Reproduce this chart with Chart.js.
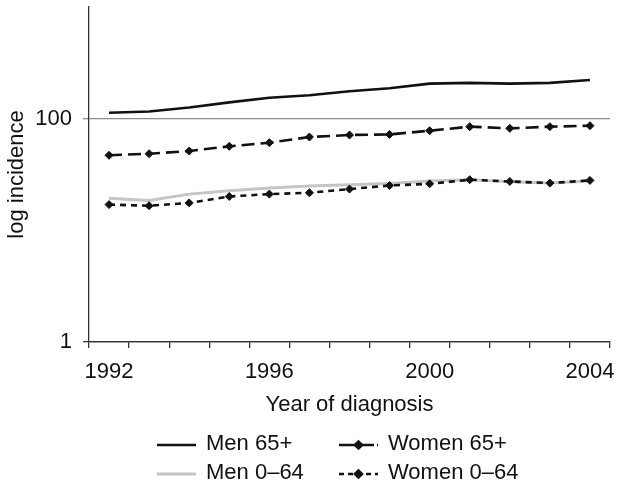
<!DOCTYPE html>
<html>
<head>
<meta charset="utf-8">
<script src="https://cdn.jsdelivr.net/npm/chart.js@4/dist/chart.umd.min.js"></script>
<style>
  html, body { margin: 0; padding: 0; background: #fff; }
  canvas { display: block; }
</style>
</head>
<body>
<canvas id="chart" width="624" height="487"></canvas>
<script>
const years = ["1992", "1993", "1994", "1995", "1996", "1997", "1998", "1999", "2000", "2001", "2002", "2003", "2004"];
const men65 = [113, 116, 126, 140, 154, 162, 176, 187, 206, 209, 206, 209, 222];
const women65 = [47, 48.5, 51.3, 56.5, 60.9, 68.5, 71.4, 72.3, 78, 84.8, 81.9, 84.8, 86.5];
const men064 = [19.4, 18.5, 21.1, 22.6, 23.9, 24.9, 25.6, 26.3, 27.6, 28.4, 27.2, 26.5, 27.6];
const women064 = [17.0, 16.6, 17.6, 20.1, 21.1, 21.7, 23.4, 25.2, 26.1, 28.4, 27.4, 26.5, 28.0];
const yTicks = [1, 100];
const labelEvery = 4;

const FONT = "'Liberation Sans', Helvetica, Arial, sans-serif";
const INK = "#111";

// draws the 2x2 legend under the axis title, styled from the datasets
const gridLegend = {
  id: "gridLegend",
  afterDraw(chart, args, opts){
    const ctx = chart.ctx;
    ctx.save();
    opts.items.forEach((item)=>{
      const ds = chart.data.datasets[item.index];
      const y = item.y;
      ctx.strokeStyle = ds.borderColor;
      ctx.lineWidth = ds.borderWidth;
      ctx.setLineDash(item.dash || []);
      ctx.beginPath();
      ctx.moveTo(item.x, y);
      ctx.lineTo(item.x + opts.lineLength, y);
      ctx.stroke();
      ctx.setLineDash([]);
      if(ds.pointRadius > 0){
        ctx.fillStyle = ds.pointBackgroundColor;
        Chart.helpers.drawPoint(ctx, {
          pointStyle: ds.pointStyle,
          radius: ds.pointRadius - 0.5,
          rotation: 0,
          borderWidth: 1
        }, item.x + opts.lineLength / 2, y);
      }
      ctx.fillStyle = INK;
      ctx.font = "22px " + FONT;
      ctx.textBaseline = "middle";
      ctx.textAlign = "left";
      ctx.fillText(ds.label, item.x + opts.lineLength + 10, y - 1);
    });
    ctx.restore();
  }
};

const markerStyle = {
  pointStyle: "rectRot",
  pointRadius: 4,
  pointBackgroundColor: INK,
  pointBorderColor: INK,
  pointBorderWidth: 1
};

new Chart(document.getElementById("chart"), {
  type: "line",
  data: {
    labels: years,
    datasets: [
      {
        label: "Men 65+",
        data: men65,
        borderColor: INK,
        borderWidth: 2.6,
        pointRadius: 0,
        order: 0
      },
      Object.assign({
        label: "Women 65+",
        data: women65,
        borderColor: INK,
        borderWidth: 2.6,
        borderDash: [13, 6],
        order: 0
      }, markerStyle),
      {
        label: "Men 0\u201364",
        data: men064,
        borderColor: "#c3c6c3",
        borderWidth: 3,
        pointRadius: 0,
        order: 2
      },
      Object.assign({
        label: "Women 0\u201364",
        data: women064,
        borderColor: INK,
        borderWidth: 2.6,
        borderDash: [6, 5],
        order: 1
      }, markerStyle)
    ]
  },
  options: {
    responsive: false,
    animation: false,
    devicePixelRatio: 1,
    layout: { padding: { top: 7, right: 14, bottom: 69, left: 0 } },
    elements: { line: { tension: 0, borderJoinStyle: "round" } },
    plugins: {
      legend: { display: false },
      tooltip: { enabled: false },
      gridLegend: {
        lineLength: 39,
        items: [
          { index: 0, x: 157, y: 445 },
          { index: 1, x: 339, y: 445, dash: [16, 3] },
          { index: 2, x: 157, y: 474 },
          { index: 3, x: 339, y: 474, dash: [5, 4] }
        ]
      }
    },
    scales: {
      x: {
        type: "category",
        offset: true,
        afterFit: (scale)=>{
          scale.height = 76;
          scale.paddingLeft = 0;
          scale.paddingRight = 0;
        },
        grid: {
          offset: true,
          drawOnChartArea: false,
          drawTicks: true,
          tickLength: 6,
          color: "#333",
          lineWidth: 1.3
        },
        border: { color: "#333", width: 1.3 },
        ticks: {
          autoSkip: false,
          maxRotation: 0,
          padding: 11,
          color: INK,
          font: { family: FONT, size: 22 },
          callback: function(value, index){
            return index % labelEvery === 0 ? this.getLabelForValue(value) : "";
          }
        },
        title: {
          display: true,
          text: "Year of diagnosis",
          color: INK,
          padding: { top: 0, bottom: 0 },
          font: { family: FONT, size: 22 }
        }
      },
      y: {
        type: "logarithmic",
        min: 1,
        max: 1000,
        afterFit: (scale)=>{
          scale.width = 89;
          scale.paddingTop = 0;
          scale.paddingBottom = 0;
        },
        afterBuildTicks: (scale)=>{
          scale.ticks = yTicks.map((v)=>({ value: v }));
        },
        grid: {
          drawTicks: true,
          tickLength: 6,
          color: (c)=> c.tick && c.tick.value === 100 ? "#8c8c8c" : "#333",
          lineWidth: 1.3
        },
        border: { color: "#333", width: 1.3 },
        ticks: {
          padding: 11,
          color: INK,
          font: { family: FONT, size: 22 },
          callback: (value)=> String(value)
        },
        title: {
          display: true,
          text: "log incidence",
          color: INK,
          padding: { top: 3.5, bottom: 0 },
          font: { family: FONT, size: 22 }
        }
      }
    }
  },
  plugins: [gridLegend]
});
</script>
</body>
</html>
